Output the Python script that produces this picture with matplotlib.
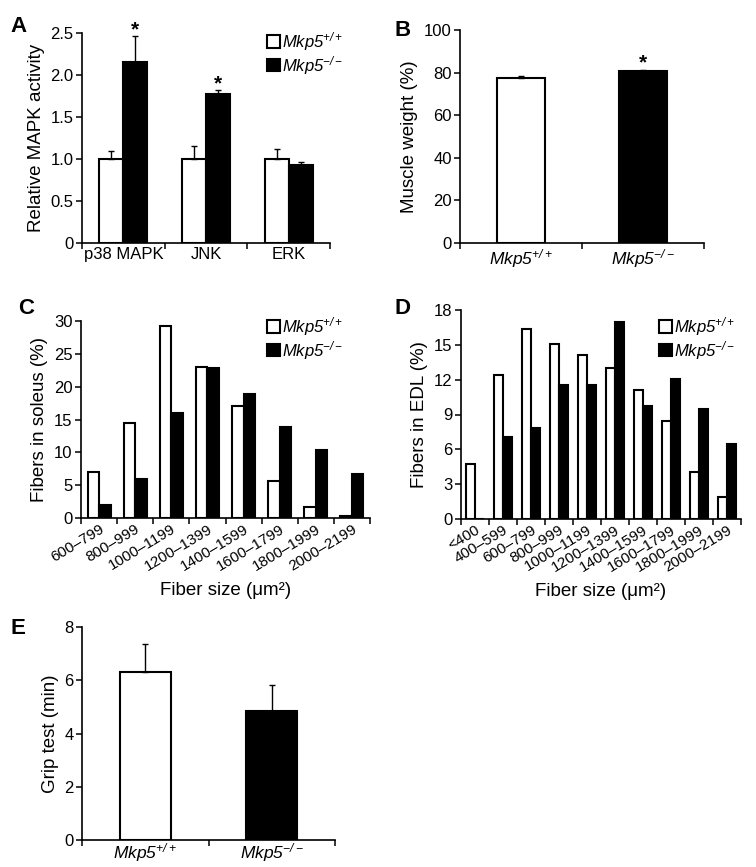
import numpy as np
import matplotlib.pyplot as plt

plt.rcParams['font.family'] = 'Liberation Sans'
plt.rcParams['mathtext.fontset'] = 'custom'
plt.rcParams['mathtext.rm'] = 'Liberation Sans:italic'
plt.rcParams['mathtext.it'] = 'Liberation Sans:italic'
plt.rcParams['axes.linewidth'] = 1.2

WT = r'$\mathrm{Mkp5}^{+/+}$'
KO = r'$\mathrm{Mkp5}^{-/-}$'

# A: relative MAPK activity
kinases = ['p38 MAPK', 'JNK', 'ERK']
act_wt = [1.0, 1.0, 1.0]
act_wt_err = [0.10, 0.15, 0.12]
act_ko = [2.15, 1.77, 0.93]
act_ko_err = [0.31, 0.05, 0.03]

# B: muscle weight
genotypes = [WT, KO]
muscle = [77.6, 80.7]
muscle_err = [0.6, 0.7]

# C: soleus fiber size distribution
soleus_bins = ['600–799', '800–999', '1000–1199', '1200–1399', '1400–1599',
               '1600–1799', '1800–1999', '2000–2199']
soleus_wt = [7.0, 14.4, 29.3, 23.0, 17.1, 5.6, 1.7, 0.3]
soleus_ko = [2.0, 6.0, 16.0, 22.8, 18.9, 13.8, 10.3, 6.7]

# D: EDL fiber size distribution
edl_bins = ['<400', '400–599', '600–799', '800–999', '1000–1199', '1200–1399',
            '1400–1599', '1600–1799', '1800–1999', '2000–2199']
edl_wt = [4.7, 12.4, 16.4, 15.1, 14.1, 13.0, 11.1, 8.4, 4.05, 1.9]
edl_ko = [0.0, 7.1, 7.8, 11.5, 11.5, 17.0, 9.7, 12.1, 9.45, 6.45]

# E: grip test
grip = [6.32, 4.86]
grip_err = [1.04, 0.98]

W, H = 756, 867
fig = plt.figure(figsize=(W / 100, H / 100), dpi=100)


def make_axes(l, t, r, b):
    ax = fig.add_axes([l / W, 1 - b / H, (r - l) / W, (b - t) / H])
    ax.spines['top'].set_visible(False)
    ax.spines['right'].set_visible(False)
    ax.tick_params(axis='y', length=4, width=1.1, labelsize=12, pad=2)
    return ax


def group_ticks(ax, labels, rot=0, size=12):
    n = len(labels)
    ax.set_xlim(-0.5, n - 0.5)
    ax.set_xticks(np.arange(n))
    if rot:
        ax.set_xticklabels(labels, rotation=rot, ha='right', va='top', rotation_mode='anchor')
    else:
        ax.set_xticklabels(labels)
    ax.tick_params(axis='x', which='major', length=0, labelsize=size, pad=3)
    ax.set_xticks(np.arange(n + 1) - 0.5, minor=True)
    ax.tick_params(axis='x', which='minor', length=4, width=1.1)


def legend(ax, x, y):
    ax.legend(loc='upper left', bbox_to_anchor=(x / W, 1 - y / H), bbox_transform=fig.transFigure,
              frameon=False, fontsize=12, handlelength=0.75, handleheight=0.75,
              handletextpad=0.15, labelspacing=0.05, borderpad=0, borderaxespad=0)


ekw = dict(elinewidth=1, capsize=2, capthick=1, ecolor='black')

# ---- A
ax = make_axes(82, 33, 330, 243)
x = np.arange(len(kinases))
w = 0.29
ax.bar(x - w / 2, act_wt, w, color='white', edgecolor='black', lw=1.5, label=WT,
       yerr=[np.zeros(3), act_wt_err], error_kw=ekw)
ax.bar(x + w / 2, act_ko, w, color='black', edgecolor='black', lw=1.5, label=KO,
       yerr=[np.zeros(3), act_ko_err], error_kw=ekw)
for i in [0, 1]:
    ax.text(x[i] + w / 2, act_ko[i] + act_ko_err[i] - 0.04, '*', ha='center', va='bottom',
            fontsize=15, fontweight='bold')
ax.set_ylim(0, 2.5)
ax.set_yticks([0, 0.5, 1.0, 1.5, 2.0, 2.5])
ax.set_yticklabels(['0', '0.5', '1.0', '1.5', '2.0', '2.5'])
group_ticks(ax, kinases)
ax.set_ylabel('Relative MAPK activity', fontsize=13.5)
legend(ax, 267, 30)

# ---- B
ax = make_axes(460, 30, 704, 243)
x = np.arange(2)
ax.bar(x, muscle, 0.4, color=['white', 'black'], edgecolor='black', lw=1.5,
       yerr=[np.zeros(2), muscle_err], error_kw=ekw)
ax.text(x[1], muscle[1] + muscle_err[1] - 1.5, '*', ha='center', va='bottom',
        fontsize=15, fontweight='bold')
ax.set_ylim(0, 100)
ax.set_yticks(range(0, 101, 20))
group_ticks(ax, genotypes, size=12.5)
ax.set_ylabel('Muscle weight (%)', fontsize=13.5)

# ---- C
ax = make_axes(81, 321, 370, 518)
x = np.arange(len(soleus_bins))
w = 0.32
ax.bar(x - w / 2, soleus_wt, w, color='white', edgecolor='black', lw=1.5, label=WT)
ax.bar(x + w / 2, soleus_ko, w, color='black', edgecolor='black', lw=1.5, label=KO)
ax.set_ylim(0, 30)
ax.set_yticks(range(0, 31, 5))
group_ticks(ax, soleus_bins, rot=31, size=11)
ax.set_ylabel('Fibers in soleus (%)', fontsize=13.5)
ax.set_xlabel('Fiber size (μm²)', fontsize=13.5, labelpad=6)
legend(ax, 267, 315)

# ---- D
ax = make_axes(461, 310, 741, 519)
x = np.arange(len(edl_bins))
w = 0.33
ax.bar(x - w / 2, edl_wt, w, color='white', edgecolor='black', lw=1.5, label=WT)
ax.bar(x + w / 2, edl_ko, w, color='black', edgecolor='black', lw=1.5, label=KO)
ax.set_ylim(0, 18)
ax.set_yticks(range(0, 19, 3))
group_ticks(ax, edl_bins, rot=31, size=11)
ax.set_ylabel('Fibers in EDL (%)', fontsize=13.5)
ax.set_xlabel('Fiber size (μm²)', fontsize=13.5, labelpad=6)
legend(ax, 659, 315)

# ---- E
ax = make_axes(82, 627, 335, 840)
x = np.arange(2)
ax.bar(x, grip, 0.4, color=['white', 'black'], edgecolor='black', lw=1.5,
       yerr=[np.zeros(2), grip_err], error_kw=ekw)
ax.set_ylim(0, 8)
ax.set_yticks(range(0, 9, 2))
group_ticks(ax, genotypes, size=12.5)
ax.tick_params(axis='x', pad=1)
ax.set_ylabel('Grip test (min)', fontsize=13.5)

for letter, lx, ly in [('A', 10, 27), ('B', 395, 30), ('C', 18, 308), ('D', 395, 308), ('E', 10, 628)]:
    fig.text(lx / W, 1 - ly / H, letter, fontsize=16, fontweight='bold', va='center', ha='left')

fig.savefig('out.png', dpi=100)
